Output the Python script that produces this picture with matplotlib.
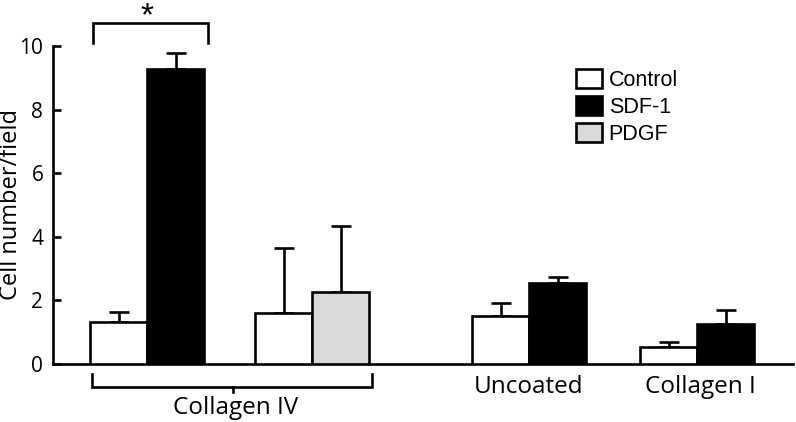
import matplotlib
matplotlib.use("Agg")
import matplotlib.pyplot as plt
from matplotlib.patches import Patch

# ---- data ----
series = ["Control", "SDF-1", "PDGF"]
colors = {"Control": "white", "SDF-1": "black", "PDGF": "#d9d9d9"}

bar_series = ["Control", "SDF-1", "Control", "PDGF", "Control", "SDF-1", "Control", "SDF-1"]
bar_means = [1.33, 9.28, 1.61, 2.25, 1.51, 2.54, 0.54, 1.25]
bar_errs = [0.31, 0.49, 2.05, 2.08, 0.40, 0.19, 0.16, 0.45]
group_labels = ["Uncoated", "Collagen I"]
bracket_label = "Collagen IV"
yticks = [0, 2, 4, 6, 8, 10]

# ---- layout ----
W, H = 796, 422
fig = plt.figure(figsize=(W / 100, H / 100), dpi=100)
ax_l, ax_r, ax_b, ax_t = 53, 793, 364, 46
ax = fig.add_axes([ax_l / W, 1 - ax_b / H, (ax_r - ax_l) / W, (ax_b - ax_t) / H])
AW = ax_r - ax_l

bw = 57.0
pair_centers = [147 - ax_l, 312 - ax_l, 529 - ax_l, 697 - ax_l]
xs = []
for c in pair_centers:
    xs += [c - bw / 2, c + bw / 2]

lw = 1.9
for x, s, m, e in zip(xs, bar_series, bar_means, bar_errs):
    ax.bar(x, m, width=bw, color=colors[s], edgecolor="black", linewidth=lw, zorder=3)
    ax.errorbar(x, m, yerr=[[0], [e]], fmt="none", ecolor="black", elinewidth=lw,
                capsize=7.5, capthick=lw, zorder=2)

ax.set_xlim(0, AW)
ax.set_ylim(0, 10)
ax.set_yticks(yticks)
ax.set_xticks([])
for sp in ["top", "right"]:
    ax.spines[sp].set_visible(False)
ax.spines["left"].set_linewidth(lw)
ax.spines["bottom"].set_linewidth(lw)
ax.tick_params(axis="y", direction="in", length=6, width=lw, pad=7, labelsize=15)
for t in ax.get_yticklabels():
    t.set_family("Open Sans")
ax.set_ylabel("Cell number/field", fontsize=17, family="Open Sans")
ax.yaxis.set_label_coords((23 - ax_l) / AW, 0.5)

for lab, c in zip(group_labels, [529, 700]):
    fig.text(c / W, 1 - 387 / H, lab, ha="center", va="center", fontsize=17.5, family="Open Sans")
fig.text(236 / W, 1 - 408 / H, bracket_label, ha="center", va="center", fontsize=17.5, family="Open Sans")

# bottom bracket
bx0, bx1, by, byt = 92, 372, 386.5, 374
fig.add_artist(plt.Line2D([bx0 / W, bx0 / W, bx1 / W, bx1 / W],
                          [1 - byt / H, 1 - by / H, 1 - by / H, 1 - byt / H],
                          color="black", lw=lw, solid_joinstyle="miter"))
fig.add_artist(plt.Line2D([233 / W, 233 / W], [1 - by / H, 1 - 392 / H], color="black", lw=lw))

# top significance bracket
tx0, tx1, ty, tyb = 93, 208, 23, 42.5
fig.add_artist(plt.Line2D([tx0 / W, tx0 / W, tx1 / W, tx1 / W],
                          [1 - tyb / H, 1 - ty / H, 1 - ty / H, 1 - tyb / H],
                          color="black", lw=lw, solid_joinstyle="miter"))
fig.text(147 / W, 1 - 17 / H, "*", ha="center", va="center", fontsize=24, family="Liberation Sans")

# legend
handles = [Patch(facecolor=colors[s], edgecolor="black", linewidth=lw, label=s) for s in series]
leg = ax.legend(handles=handles, loc="upper left",
                bbox_to_anchor=((576 - ax_l) / AW, 1 - (69 - ax_t) / (ax_b - ax_t)),
                frameon=False, prop={"family": "Liberation Sans", "size": 15.5},
                handlelength=1.22, handleheight=0.95, handletextpad=0.3, labelspacing=0.25,
                borderpad=0, borderaxespad=0)

fig.savefig("out.png", dpi=100)
